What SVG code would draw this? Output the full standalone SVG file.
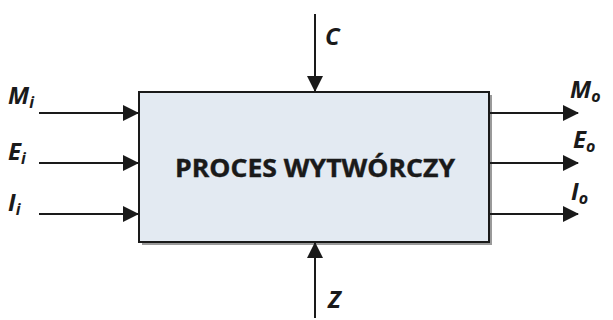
<svg xmlns="http://www.w3.org/2000/svg" width="613" height="320" viewBox="0 0 613 320">
<defs>
<style>
.ln{stroke:#1a1a1a;stroke-width:2;fill:none}
.lbl{font-family:"Open Sans","Liberation Sans",sans-serif;font-weight:bold;font-style:italic;fill:#1a1a1a}
.sub{font-size:16px}
.big{font-size:24px}
</style>
<marker id="ah" markerWidth="16" markerHeight="16" viewBox="0 0 16 16" refX="15" refY="8" orient="auto" markerUnits="userSpaceOnUse">
<path d="M0,0 L16,8 L0,16 Z" fill="#1a1a1a"/>
</marker>
</defs>
<rect width="613" height="320" fill="#ffffff"/>
<g id="proces">
<rect x="142" y="95" width="350" height="150" fill="#9a9a9a"/>
<rect x="139" y="92" width="350" height="150" fill="#e3eaf2" stroke="#1a1a1a" stroke-width="2"/>
<text x="315" y="177" text-anchor="middle" font-family="'Open Sans','Liberation Sans',sans-serif" font-weight="bold" font-size="25" fill="#1a1a1a" stroke="#1a1a1a" stroke-width="0.4" textLength="280" lengthAdjust="spacingAndGlyphs">PROCES WYTWÓRCZY</text>
</g>
<g id="connectors">
<line class="ln" x1="39" y1="113" x2="138" y2="113" marker-end="url(#ah)"/>
<line class="ln" x1="39" y1="163" x2="138" y2="163" marker-end="url(#ah)"/>
<line class="ln" x1="39" y1="214" x2="138" y2="214" marker-end="url(#ah)"/>
<line class="ln" x1="490" y1="113" x2="578" y2="113" marker-end="url(#ah)"/>
<line class="ln" x1="490" y1="163" x2="578" y2="163" marker-end="url(#ah)"/>
<line class="ln" x1="490" y1="214" x2="578" y2="214" marker-end="url(#ah)"/>
<line class="ln" x1="315" y1="14" x2="315" y2="91" marker-end="url(#ah)"/>
<line class="ln" x1="315" y1="318" x2="315" y2="243" marker-end="url(#ah)"/>
</g>
<g id="labels">
<text class="lbl big" x="8" y="104">M<tspan class="sub" dy="4">i</tspan></text>
<text class="lbl big" x="8" y="160">E<tspan class="sub" dy="4">i</tspan></text>
<text class="lbl big" x="8" y="211">I<tspan class="sub" dy="4">i</tspan></text>
<text class="lbl big" x="570" y="98">M<tspan class="sub" dy="4">o</tspan></text>
<text class="lbl big" x="573" y="148">E<tspan class="sub" dy="4">o</tspan></text>
<text class="lbl big" x="571" y="200">I<tspan class="sub" dy="4">o</tspan></text>
<text class="lbl big" x="325" y="45">C</text>
<text class="lbl big" x="328" y="308">Z</text>
</g>
</svg>
